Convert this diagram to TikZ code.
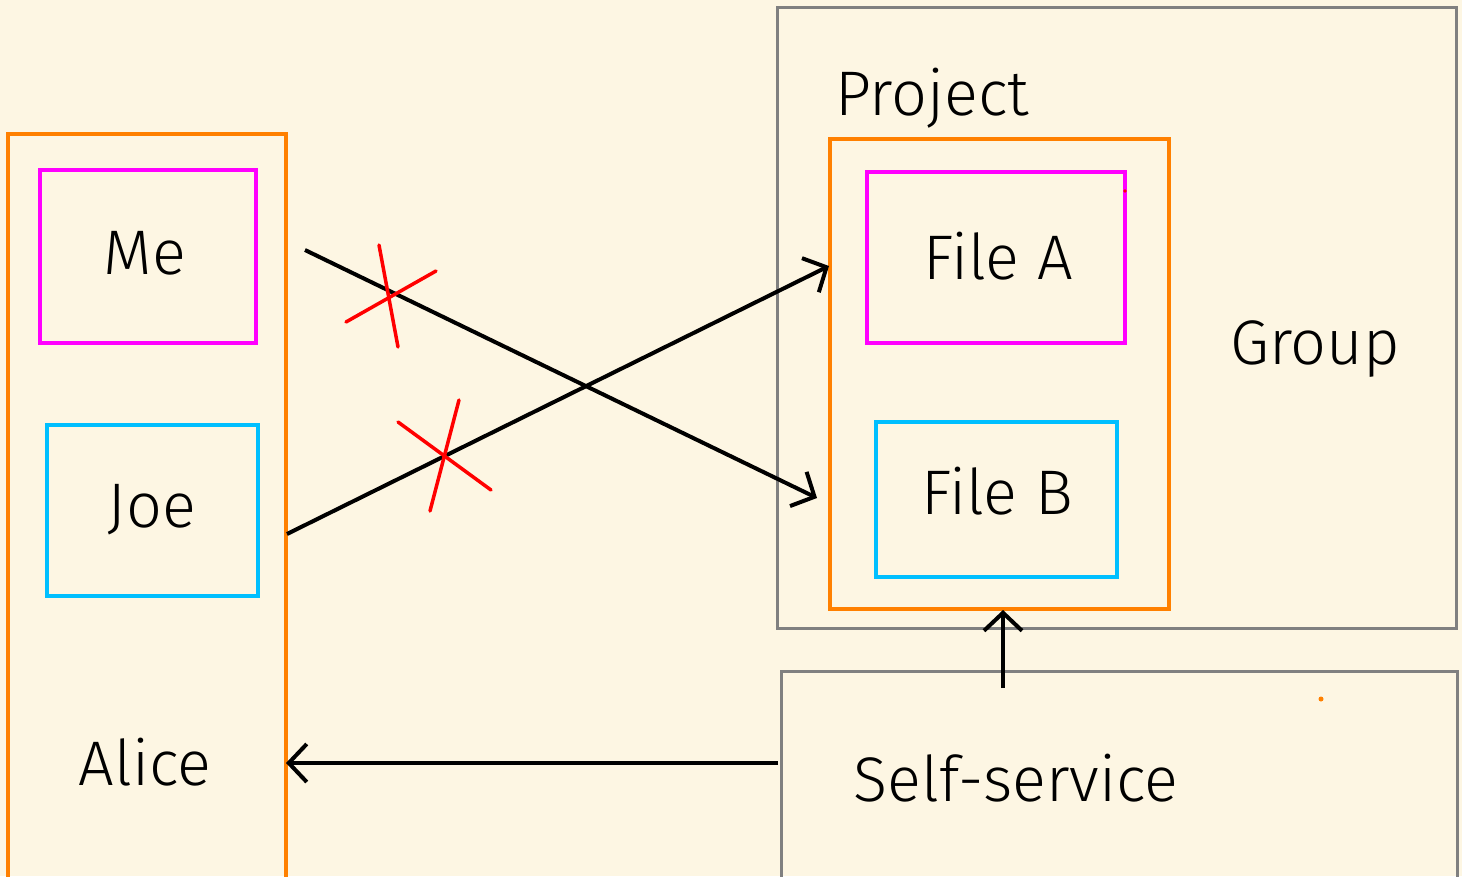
\documentclass[tikz,border=0pt]{standalone}
\usepackage{fontspec}
\setmainfont{Fira Sans}[UprightFont={* Light}]
\usetikzlibrary{arrows.meta}
\definecolor{bg}{HTML}{FDF6E3}
\definecolor{orng}{HTML}{FF8000}
\definecolor{mag}{HTML}{FF00FF}
\definecolor{cyn}{HTML}{00BFFF}
\definecolor{gry}{HTML}{808080}
\tikzset{
  lbl/.style={font=\fontsize{63}{68}\selectfont, inner sep=0pt, text=black},
  arr/.style={line width=4pt, -{Straight Barb[length=18pt,width=38pt,line width=4pt]}},
  cross/.style={red, line width=3.5pt, line cap=round},
  cbox/.style={line width=3.5pt, inner sep=0pt},
  gbox/.style={draw=gry, line width=3pt, inner sep=0pt},
}
\begin{document}
\begin{tikzpicture}[x=1pt,y=-1pt]
\fill[bg] (0,0) rectangle (1462,876);
\useasboundingbox (0,0) rectangle (1462,876);
% boxes
\node[cbox, draw=orng, minimum width=278pt, minimum height=760pt] (alice) at (147,134+380) {};
\node[cbox, draw=mag, minimum width=216pt, minimum height=173pt] (me) at (148,256.5) {};
\node[cbox, draw=cyn, minimum width=211pt, minimum height=171pt] (joe) at (152.5,510.5) {};
\node[gbox, minimum width=679pt, minimum height=621pt] (group) at (1116.5,317.5) {};
\node[cbox, draw=orng, minimum width=339pt, minimum height=470pt] (project) at (999.5,374) {};
\node[cbox, draw=mag, minimum width=258pt, minimum height=171pt] (filea) at (996,257.5) {};
\node[cbox, draw=cyn, minimum width=241pt, minimum height=155pt] (fileb) at (996.5,499.5) {};
\node[gbox, minimum width=676pt, minimum height=220pt] (self) at (1119,781) {};
% labels
\node[lbl] (tme) at (145,253) {Me};
\node[lbl] (tjoe) at (152,510) {Joe};
\node[lbl] (talice) at (145,762) {Alice};
\node[lbl, anchor=base west] (tproject) at (835,115) {Project};
\node[lbl] (tfilea) at (998,256) {File A};
\node[lbl] (tfileb) at (997,491) {File B};
\node[lbl] (tgroup) at (1315,349) {Group};
\node[lbl] (tself) at (1016,778) {Self-service};
% connectors
\coordinate (meout) at (305,250);
\coordinate (fbin) at (817,498);
\coordinate (joeout) at (287,534);
\coordinate (fain) at (829,266);
\coordinate (selfup) at (1003,688);
\coordinate (projbot) at (1003,610);
\coordinate (selfleft) at (778,763);
\coordinate (aliceright) at (286,763);
\draw[arr] (meout) -- (fbin);
\draw[arr] (joeout) -- (fain);
\draw[arr] (selfup) -- (projbot);
\draw[arr] (selfleft) -- (aliceright);
% crosses
\draw[cross] (379,245) -- (398,347);
\draw[cross] (346,322) -- (436,271);
\draw[cross] (459,400) -- (430,511);
\draw[cross] (398,422) -- (491,490);
% specks
\fill[red] (1125,191) circle (1.8pt);
\fill[orng] (1321,699) circle (2.5pt);
\end{tikzpicture}
\end{document}
